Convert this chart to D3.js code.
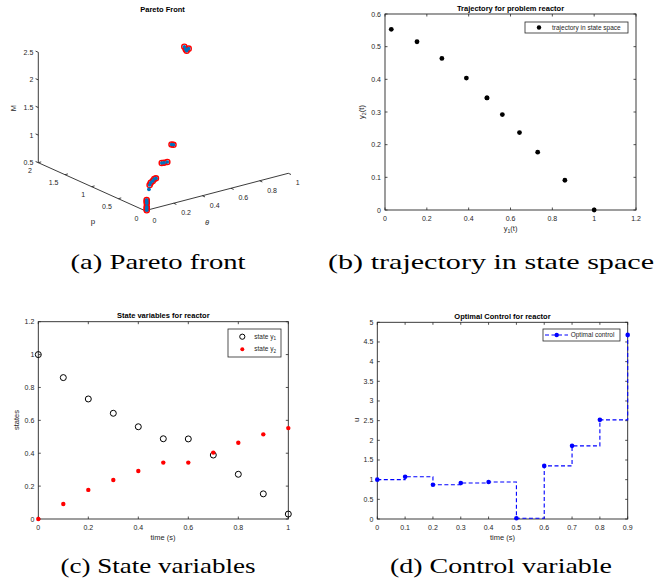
<!DOCTYPE html>
<html><head><meta charset="utf-8">
<script src="https://cdn.jsdelivr.net/npm/d3@7"></script>
<style>
body{margin:0;background:#fff}
text{font-family:"Liberation Sans",Arial,Helvetica,sans-serif}
</style>
</head><body>
<svg id="fig" width="657" height="587"></svg>
<script>
// ---------------- DATA ----------------
// state variables (c) and trajectory (b)
const time = [0, 0.1, 0.2, 0.3, 0.4, 0.5, 0.6, 0.7, 0.8, 0.9, 1.0];
const y1 = [1.0, 0.86, 0.73, 0.643, 0.561, 0.488, 0.487, 0.389, 0.272, 0.153, 0.030];
const y2 = [0.0, 0.091, 0.177, 0.237, 0.292, 0.343, 0.343, 0.404, 0.464, 0.515, 0.553];
// control (d)
const uTime = [0, 0.1, 0.2, 0.3, 0.4, 0.5, 0.6, 0.7, 0.8, 0.9];
const uValues = [1.0, 1.075, 0.872, 0.915, 0.94, 0.018, 1.35, 1.86, 2.52, 4.68];
// Pareto front (a): theta, p, M
const paretoTheta = [0.700, 0.708, 0.714, 0.727, 0.496, 0.507, 0.369, 0.382, 0.398,
  0.175, 0.192, 0.212, 0.233, 0.247, 0.069, 0.059, 0.048, 0.025, 0.018, 0.012];
const paretoP = [1.143, 1.139, 1.137, 1.134, 0.835, 0.828, 0.677, 0.669, 0.651,
  0.383, 0.408, 0.424, 0.452, 0.459, 0.154, 0.126, 0.096, 0.035, 0.017, 0.0];
const paretoM = [2.50, 2.45, 2.42, 2.45, 1.00, 0.99, 0.82, 0.82, 0.83,
  0.68, 0.70, 0.71, 0.72, 0.72, 0.58, 0.57, 0.56, 0.54, 0.52, 0.50];
const extraTheta = [0.146];
const extraP = [0.318];
const extraM = [0.65];
// ticks
const mTicks = [0.5, 1, 1.5, 2, 2.5];
const pTicks = [0, 0.5, 1, 1.5, 2];
const thetaTicks = [0, 0.2, 0.4, 0.6, 0.8, 1];
const bXTicks = [0, 0.2, 0.4, 0.6, 0.8, 1, 1.2];
const bYTicks = [0, 0.1, 0.2, 0.3, 0.4, 0.5, 0.6];
const cXTicks = [0, 0.2, 0.4, 0.6, 0.8, 1];
const cYTicks = [0, 0.2, 0.4, 0.6, 0.8, 1, 1.2];
const dXTicks = [0, 0.1, 0.2, 0.3, 0.4, 0.5, 0.6, 0.7, 0.8, 0.9];
const dYTicks = [0, 0.5, 1, 1.5, 2, 2.5, 3, 3.5, 4, 4.5, 5];
const captions = ["(a) Pareto front", "(b) trajectory in state space", "(c) State variables", "(d) Control variable"];

// ---------------- DRAWING ----------------
const svg = d3.select("#fig");
const AX = "#262626";
const fmt = d3.format("~g");

function panel2D(o) {
  const g = svg.append("g");
  const x = d3.scaleLinear(o.xDomain, [o.left, o.right]);
  const y = d3.scaleLinear(o.yDomain, [o.bottom, o.top]);
  const tl = 2.5;
  // ticks (inward, all sides)
  o.xTicks.forEach(t => {
    g.append("line").attr("x1", x(t)).attr("x2", x(t)).attr("y1", o.bottom).attr("y2", o.bottom - tl).attr("stroke", AX).attr("stroke-width", 0.8);
    g.append("line").attr("x1", x(t)).attr("x2", x(t)).attr("y1", o.top).attr("y2", o.top + tl).attr("stroke", AX).attr("stroke-width", 0.8);
    g.append("text").attr("x", x(t)).attr("y", o.bottom + 11).attr("text-anchor", "middle")
      .attr("font-size", 7).attr("fill", AX).text(fmt(t));
  });
  o.yTicks.forEach(t => {
    g.append("line").attr("x1", o.left).attr("x2", o.left + tl).attr("y1", y(t)).attr("y2", y(t)).attr("stroke", AX).attr("stroke-width", 0.8);
    g.append("line").attr("x1", o.right).attr("x2", o.right - tl).attr("y1", y(t)).attr("y2", y(t)).attr("stroke", AX).attr("stroke-width", 0.8);
    g.append("text").attr("x", o.left - 4).attr("y", y(t) + 2.5).attr("text-anchor", "end")
      .attr("font-size", 7).attr("fill", AX).text(fmt(t));
  });
  g.append("rect").attr("x", o.left).attr("y", o.top).attr("width", o.right - o.left).attr("height", o.bottom - o.top)
    .attr("fill", "none").attr("stroke", AX).attr("stroke-width", 0.9);
  g.append("text").attr("x", (o.left + o.right) / 2).attr("y", o.top - 3.5).attr("text-anchor", "middle")
    .attr("font-size", 7.5).attr("font-weight", "bold").attr("fill", "#000").text(o.title);
  return {g, x, y};
}

function subLabel(g, x, y, base, sub, tail, rotate, size) {
  const t = g.append("text").attr("font-size", size).attr("fill", AX).attr("text-anchor", "middle")
    .attr("transform", `translate(${x},${y})` + (rotate ? " rotate(-90)" : ""));
  t.append("tspan").text(base);
  if (sub) t.append("tspan").attr("font-size", size * 0.7).attr("dy", 2).text(sub);
  if (tail) t.append("tspan").attr("dy", sub ? -2 : 0).text(tail);
  return t;
}

// ---------- (b) trajectory ----------
{
  const P = panel2D({left: 385, right: 636, top: 14, bottom: 210, xDomain: [0, 1.2], yDomain: [0, 0.6],
    xTicks: bXTicks, yTicks: bYTicks, title: "Trajectory for problem reactor"});
  P.g.append("g").selectAll("circle").data(d3.range(y1.length)).join("circle")
    .attr("cx", i => P.x(y1[i])).attr("cy", i => P.y(y2[i])).attr("r", 2.4).attr("fill", "#000");
  subLabel(P.g, 510.5, 231, "y", "1", "(t)", false, 7.5);
  subLabel(P.g, 364, 112, "y", "2", "(t)", true, 7.5);
  // legend
  P.g.append("rect").attr("x", 525).attr("y", 22).attr("width", 103).attr("height", 11)
    .attr("fill", "#fff").attr("stroke", AX).attr("stroke-width", 0.8);
  P.g.append("circle").attr("cx", 539).attr("cy", 27.5).attr("r", 2.2).attr("fill", "#000");
  P.g.append("text").attr("x", 552).attr("y", 29.8).attr("font-size", 6.5).attr("fill", AX).text("trajectory in state space");
}

// ---------- (c) state variables ----------
{
  const P = panel2D({left: 38.3, right: 288.3, top: 321.7, bottom: 519, xDomain: [0, 1], yDomain: [0, 1.2],
    xTicks: cXTicks, yTicks: cYTicks, title: "State variables for reactor"});
  P.g.append("g").selectAll("circle").data(d3.range(time.length)).join("circle")
    .attr("cx", i => P.x(time[i])).attr("cy", i => P.y(y1[i])).attr("r", 3)
    .attr("fill", "none").attr("stroke", "#000").attr("stroke-width", 1);
  P.g.append("g").selectAll("circle").data(d3.range(time.length)).join("circle")
    .attr("cx", i => P.x(time[i])).attr("cy", i => P.y(y2[i])).attr("r", 2.2).attr("fill", "#ff0000");
  P.g.append("text").attr("x", 163).attr("y", 540).attr("text-anchor", "middle").attr("font-size", 7.5).attr("fill", AX).text("time (s)");
  P.g.append("text").attr("transform", "translate(19,420) rotate(-90)").attr("text-anchor", "middle")
    .attr("font-size", 7.5).attr("fill", AX).text("states");
  // legend
  P.g.append("rect").attr("x", 228).attr("y", 329).attr("width", 53).attr("height", 28)
    .attr("fill", "#fff").attr("stroke", AX).attr("stroke-width", 0.8);
  P.g.append("circle").attr("cx", 242.3).attr("cy", 336.7).attr("r", 2.6).attr("fill", "none").attr("stroke", "#000").attr("stroke-width", 1);
  P.g.append("circle").attr("cx", 242.3).attr("cy", 349.3).attr("r", 2).attr("fill", "#ff0000");
  const l1 = P.g.append("text").attr("x", 254.3).attr("y", 338.5).attr("font-size", 6.5).attr("fill", AX);
  l1.append("tspan").text("state y"); l1.append("tspan").attr("font-size", 4.6).attr("dy", 1.8).text("1");
  const l2 = P.g.append("text").attr("x", 254.3).attr("y", 351).attr("font-size", 6.5).attr("fill", AX);
  l2.append("tspan").text("state y"); l2.append("tspan").attr("font-size", 4.6).attr("dy", 1.8).text("2");
}

// ---------- (d) control ----------
{
  const P = panel2D({left: 377.3, right: 627.7, top: 322.3, bottom: 519, xDomain: [0, 0.9], yDomain: [0, 5],
    xTicks: dXTicks, yTicks: dYTicks, title: "Optimal Control for reactor"});
  const line = d3.line().x(i => P.x(uTime[i])).y(i => P.y(uValues[i])).curve(d3.curveStepAfter);
  P.g.append("path").attr("d", line(d3.range(uTime.length))).attr("fill", "none")
    .attr("stroke", "#0000ff").attr("stroke-width", 1.1).attr("stroke-dasharray", "4,2.5");
  P.g.append("g").selectAll("circle").data(d3.range(uTime.length)).join("circle")
    .attr("cx", i => P.x(uTime[i])).attr("cy", i => P.y(uValues[i])).attr("r", 2.3).attr("fill", "#0000ff");
  P.g.append("text").attr("x", 502.5).attr("y", 540).attr("text-anchor", "middle").attr("font-size", 7.5).attr("fill", AX).text("time (s)");
  P.g.append("text").attr("transform", "translate(358.5,420) rotate(-90)").attr("text-anchor", "middle")
    .attr("font-size", 7.5).attr("fill", AX).text("u");
  // legend
  P.g.append("rect").attr("x", 543).attr("y", 329).attr("width", 77).attr("height", 12)
    .attr("fill", "#fff").attr("stroke", AX).attr("stroke-width", 0.8);
  P.g.append("line").attr("x1", 545).attr("x2", 568).attr("y1", 335).attr("y2", 335)
    .attr("stroke", "#0000ff").attr("stroke-width", 1.1).attr("stroke-dasharray", "4,2.5");
  P.g.append("circle").attr("cx", 556.7).attr("cy", 335).attr("r", 2.2).attr("fill", "#0000ff");
  P.g.append("text").attr("x", 570.7).attr("y", 337.4).attr("font-size", 6.5).attr("fill", AX).text("Optimal control");
}

// ---------- (a) Pareto front, 3D projection ----------
{
  const g = svg.append("g");
  const ox = 145, oy = 210.7;
  const thX = d3.scaleLinear([0, 1], [0, 143.3]), thY = d3.scaleLinear([0, 1], [0, -37.4]);
  const pX = d3.scaleLinear([0, 2], [0, -106.7]), pY = d3.scaleLinear([0, 2], [0, -48]);
  const mY = d3.scaleLinear([0.5, 2.5], [0, -110.4]);
  const px = (t, p, m) => ox + thX(t) + pX(p);
  const py = (t, p, m) => oy + thY(t) + pY(p) + mY(m);
  const ln = (a, b) => g.append("line").attr("x1", a[0]).attr("y1", a[1]).attr("x2", b[0]).attr("y2", b[1])
    .attr("stroke", AX).attr("stroke-width", 0.9);
  const P3 = (t, p, m) => [px(t, p, m), py(t, p, m)];
  // axes
  ln(P3(0, 2, 0.5), P3(0, 2, 2.5));
  ln(P3(0, 0, 0.5), P3(0, 2, 0.5));
  ln(P3(0, 0, 0.5), P3(1, 0, 0.5));
  // M ticks
  mTicks.forEach(m => {
    const a = P3(0, 2, m);
    ln(a, [a[0] - 2.7, a[1] - 1.2]);
    g.append("text").attr("x", a[0] - 5).attr("y", a[1] + 2.5).attr("text-anchor", "end").attr("font-size", 7).attr("fill", AX).text(fmt(m));
  });
  pTicks.forEach(p => {
    const a = P3(0, p, 0.5);
    ln(a, [a[0] + 2.9, a[1] - 0.8]);
    g.append("text").attr("x", a[0] - 6.5).attr("y", a[1] + 10.5).attr("text-anchor", "end").attr("font-size", 7).attr("fill", AX).text(fmt(p));
  });
  thetaTicks.forEach(t => {
    const a = P3(t, 0, 0.5);
    ln(a, [a[0] + 2.7, a[1] + 1.2]);
    g.append("text").attr("x", a[0] + 7.5).attr("y", a[1] + 12).attr("text-anchor", "start").attr("font-size", 7).attr("fill", AX).text(fmt(t));
  });
  g.append("text").attr("transform", "translate(15.5,108) rotate(-90)").attr("text-anchor", "middle")
    .attr("font-size", 7.5).attr("fill", AX).text("M");
  g.append("text").attr("x", 93).attr("y", 224).attr("text-anchor", "middle").attr("font-size", 8).attr("fill", AX).text("p");
  g.append("text").attr("x", 207).attr("y", 224.5).attr("text-anchor", "middle").attr("font-size", 7.5)
    .attr("font-style", "italic").attr("fill", AX).text("θ");
  g.append("text").attr("x", 162.5).attr("y", 11.5).attr("text-anchor", "middle").attr("font-size", 7.5)
    .attr("font-weight", "bold").attr("fill", "#000").text("Pareto Front");
  const idx = d3.range(paretoTheta.length);
  g.append("g").selectAll("circle").data(idx).join("circle")
    .attr("cx", i => px(paretoTheta[i], paretoP[i], paretoM[i])).attr("cy", i => py(paretoTheta[i], paretoP[i], paretoM[i]))
    .attr("r", 2.6).attr("fill", "none").attr("stroke", "#ff0000").attr("stroke-width", 1.4);
  g.append("g").selectAll("circle").data(d3.range(extraTheta.length)).join("circle")
    .attr("cx", i => px(extraTheta[i], extraP[i], extraM[i])).attr("cy", i => py(extraTheta[i], extraP[i], extraM[i]))
    .attr("r", 1.9).attr("fill", "#0072bd");
  g.append("g").selectAll("circle").data(idx).join("circle")
    .attr("cx", i => px(paretoTheta[i], paretoP[i], paretoM[i])).attr("cy", i => py(paretoTheta[i], paretoP[i], paretoM[i]))
    .attr("r", 1.8).attr("fill", "#0072bd");
}

// ---------- captions ----------
const capPos = [[158, 269, 175], [491, 269, 326], [158, 573, 195], [501, 573, 222]];
captions.forEach((c, i) => {
  svg.append("text").attr("x", capPos[i][0]).attr("y", capPos[i][1]).attr("text-anchor", "middle")
    .style("font-family", '"Liberation Serif","Times New Roman",serif').attr("font-size", 21)
    .attr("textLength", capPos[i][2]).attr("lengthAdjust", "spacingAndGlyphs").attr("fill", "#000").text(c);
});
</script>
</body></html>
